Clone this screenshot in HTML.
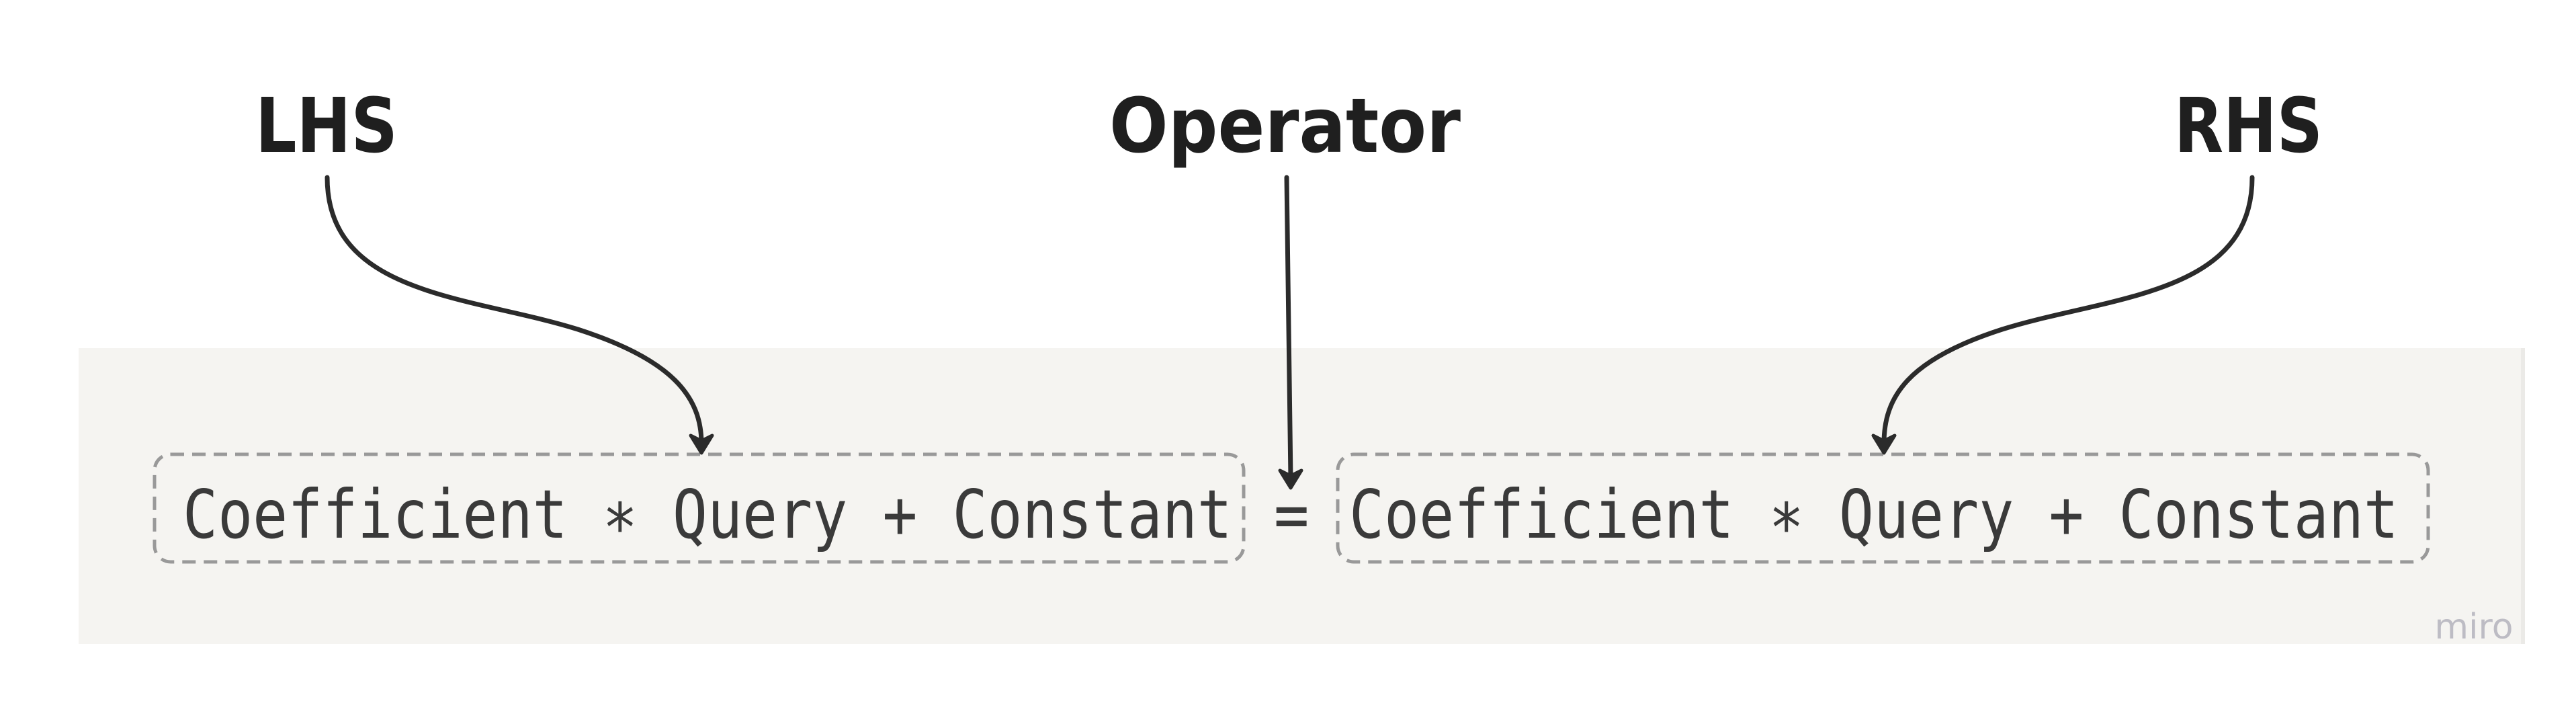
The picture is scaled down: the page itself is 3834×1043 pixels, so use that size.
<!DOCTYPE html>
<html><head><meta charset="utf-8"><style>
html,body{margin:0;padding:0;background:#fff;}
body{width:3834px;height:1043px;position:relative;overflow:hidden;}
</style></head><body>
<svg width="3834" height="1043" viewBox="0 0 3834 1043" xmlns="http://www.w3.org/2000/svg" style="position:absolute;left:0;top:0">
<rect x="117" y="518" width="3641" height="440" fill="#f5f4f1"/>
<rect x="3752" y="518" width="6" height="440" fill="#ebeae7"/>
<g font-family="'DejaVu Sans','Liberation Sans',sans-serif" font-weight="bold" font-size="112" fill="#1f1f1f">
<text x="380" y="226" textLength="212" lengthAdjust="spacingAndGlyphs">LHS</text>
<text x="1651" y="226" textLength="523" lengthAdjust="spacingAndGlyphs">Operator</text>
<text x="3236" y="226" textLength="221" lengthAdjust="spacingAndGlyphs">RHS</text>
</g>
<g fill="none" stroke="#999" stroke-width="5" stroke-dasharray="20 12">
<rect x="230" y="676" width="1621" height="160" rx="24"/>
<rect x="1991" y="676" width="1623" height="160" rx="24"/>
</g>
<g font-family="'DejaVu Sans Mono','Liberation Mono',monospace" font-size="87" fill="#3a3a3a">
<text x="272" y="800" textLength="1562" lengthAdjust="spacingAndGlyphs" transform="translate(0,-120) scale(1,1.15)">Coefficient ∗ Query + Constant</text>
<text x="1896" y="800" transform="translate(0,-120) scale(1,1.15)">=</text>
<text x="2008" y="800" textLength="1562" lengthAdjust="spacingAndGlyphs" transform="translate(0,-120) scale(1,1.15)">Coefficient ∗ Query + Constant</text>
</g>
<g fill="none" stroke="#2b2b2b" stroke-width="7" stroke-linecap="round">
<path d="M487 264 C487 440 700 440 860 490 C1000 535 1044 590 1044 660"/>
<path d="M1915 264 L1921 712"/>
<path d="M3352 264 C3352 440 3140 440 2980 490 C2840 535 2804 590 2804 660"/>
</g>
<g fill="#2b2b2b" stroke="#2b2b2b" stroke-width="5" stroke-linejoin="round">
<path d="M1028 648 L1044 674 L1060 648 L1044 656 Z"/>
<path d="M1905 700 L1921 726 L1937 700 L1921 708 Z"/>
<path d="M2788 648 L2804 674 L2820 648 L2804 656 Z"/>
</g>
<text x="3682" y="950" font-family="'DejaVu Sans','Liberation Sans',sans-serif" font-size="52" fill="#bdbcc4" text-anchor="middle">miro</text>
</svg>
</body></html>
